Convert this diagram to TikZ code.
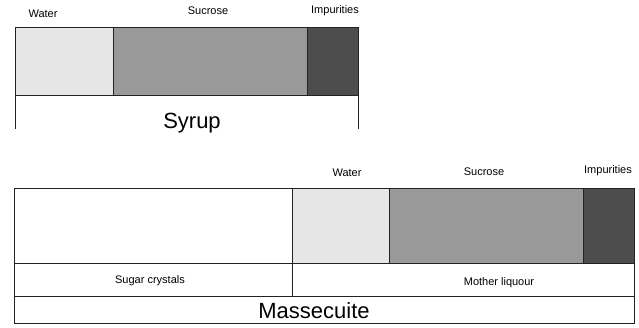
\documentclass[tikz,border=0pt]{standalone}
\usepackage{fontspec}
\setmainfont{Liberation Sans}
\usetikzlibrary{positioning}
\definecolor{waterc}{HTML}{E6E6E6}
\definecolor{sucrosec}{HTML}{999999}
\definecolor{impc}{HTML}{4D4D4D}
\definecolor{edge}{HTML}{222222}
\tikzset{
  seg/.style={draw=edge, line width=0.9pt, inner sep=0pt, outer sep=0pt},
  lab/.style={font=\fontsize{11}{13}\selectfont, inner sep=0pt},
  title/.style={font=\fontsize{22}{26}\selectfont, inner sep=0pt, anchor=base},
}
\begin{document}
\begin{tikzpicture}[x=1pt, y=-1pt]
    \useasboundingbox (0,0) rectangle (639,327);
    % syrup: labels
    \node[lab] (swlab) at (43,14)  {Water};
    \node[lab] (sslab) at (208,11) {Sucrose};
    \node[lab] (silab) at (335,11) {Impurities};
    % syrup: bar
    \node[seg, fill=waterc,   minimum width=98pt,  minimum height=68pt] (swater) at (64,61.5)    {};
    \node[seg, fill=sucrosec, minimum width=194pt, minimum height=68pt] (ssucr)  at (210,61.5)   {};
    \node[seg, fill=impc,     minimum width=51pt,  minimum height=68pt] (simp)   at (332.5,61.5) {};
    \coordinate (sbl) at (15,129);
    \coordinate (sbr) at (358,129);
    \draw[draw=edge, line width=0.9pt] (swater.south west) -- (sbl);
    \draw[draw=edge, line width=0.9pt] (simp.south east) -- (sbr);
    \node[title] (syrup) at (192,128) {Syrup};
    % massecuite: labels
    \node[lab] (mwlab) at (347,173) {Water};
    \node[lab] (mslab) at (484,172) {Sucrose};
    \node[lab] (milab) at (608,171) {Impurities};
    % massecuite: bar
    \node[seg, fill=white,    minimum width=278pt, minimum height=75pt] (mcry)   at (153,225.5)   {};
    \node[seg, fill=waterc,   minimum width=97pt,  minimum height=75pt] (mwater) at (340.5,225.5) {};
    \node[seg, fill=sucrosec, minimum width=194pt, minimum height=75pt] (msucr)  at (486,225.5)   {};
    \node[seg, fill=impc,     minimum width=51pt,  minimum height=75pt] (mimp)   at (608.5,225.5) {};
    % massecuite: phases
    \node[seg, minimum width=278pt, minimum height=33pt] (crybox) at (153,279.5) {};
    \node[seg, minimum width=342pt, minimum height=33pt] (mlbox)  at (463,279.5) {};
    \node[seg, minimum width=620pt, minimum height=27pt] (mbox)   at (324,309.5) {};
    \node[lab] (crylab) at (150,281) {Sugar crystals};
    \node[lab] (mllab)  at (499,283) {Mother liquour};
    \node[title] (masse) at (314,318) {Massecuite};
\end{tikzpicture}
\end{document}
